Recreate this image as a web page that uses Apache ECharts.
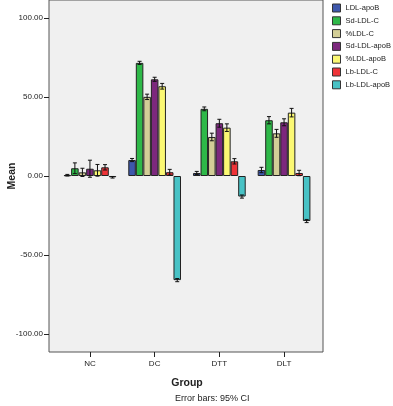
<!DOCTYPE html>
<html><head><meta charset="utf-8">
<script src="https://cdn.jsdelivr.net/npm/echarts@6/dist/echarts.min.js"></script>
<style>html,body{margin:0;padding:0;background:#fff}#c{width:393px;height:406px}</style>
</head><body><div id="c"></div>
<script>
var categories = ['NC', 'DC', 'DTT', 'DLT'];
var seriesNames = ['LDL-apoB', 'Sd-LDL-C', '%LDL-C', 'Sd-LDL-apoB', '%LDL-apoB', 'Lb-LDL-C', 'Lb-LDL-apoB'];
var ldlApoB     = [0.5, 10.1, 1.9, 3.8];
var sdLdlC      = [4.9, 71.6, 42.5, 35.3];
var pctLdlC     = [2.3, 50.1, 24.7, 27.0];
var sdLdlApoB   = [4.6, 61.2, 33.4, 34.0];
var pctLdlApoB  = [3.6, 56.8, 30.6, 40.1];
var lbLdlC      = [5.5, 2.4, 9.3, 1.9];
var lbLdlApoB   = [-0.8, -65.9, -13.0, -28.5];
var errLdlApoB    = [0.5, 1.0, 1.0, 1.7];
var errSdLdlC     = [3.4, 1.0, 1.2, 2.3];
var errPctLdlC    = [2.6, 1.7, 2.4, 2.5];
var errSdLdlApoB  = [5.4, 1.3, 2.5, 2.2];
var errPctLdlApoB = [3.7, 1.8, 2.4, 2.7];
var errLbLdlC     = [1.7, 1.8, 1.7, 1.7];
var errLbLdlApoB  = [0.5, 1.0, 1.0, 1.0];
var yTicks = [-100, -50, 0, 50, 100];

var values = [ldlApoB, sdLdlC, pctLdlC, sdLdlApoB, pctLdlApoB, lbLdlC, lbLdlApoB];
var errors = [errLdlApoB, errSdLdlC, errPctLdlC, errSdLdlApoB, errPctLdlApoB, errLbLdlC, errLbLdlApoB];
var colors = ['#3E58AC', '#2EB848', '#D3CE97', '#7C287D', '#FBF873', '#EF3338', '#48C2C5'];
var GAP = 0.185;
var YMIN = -111.4, YMAX = 111.4;
var FONT = 'Liberation Sans, Arial, sans-serif';

var series = [];
seriesNames.forEach(function (n, k) {
  series.push({
    type: 'bar', name: n, xAxisIndex: 1, yAxisIndex: 1,
    data: values[k], barGap: 0, barCategoryGap: (GAP * 100) + '%',
    itemStyle: { color: colors[k], borderColor: '#222', borderWidth: 1 },
    animation: false, silent: true
  });
});
var errData = [];
values.forEach(function (arr, k) {
  arr.forEach(function (v, i) { errData.push([i, v, errors[k][i], k]); });
});
series.push({
  type: 'custom', xAxisIndex: 1, yAxisIndex: 1, animation: false, silent: true, z: 10,
  data: errData, encode: { x: 0, y: 1 },
  renderItem: function (params, api) {
    var i = api.value(0), v = api.value(1), e = api.value(2), k = api.value(3);
    var band = api.size([1, 0])[0];
    var bw = band * (1 - GAP) / 7;
    var cx = api.coord([i, v])[0] + (k - 3) * bw;
    var yt = api.coord([i, v + e])[1];
    var yb = api.coord([i, v - e])[1];
    var cap = 2;
    var st = { stroke: '#111', lineWidth: 1 };
    return { type: 'group', children: [
      { type: 'line', shape: { x1: cx, y1: yt, x2: cx, y2: yb }, style: st },
      { type: 'line', shape: { x1: cx - cap, y1: yt, x2: cx + cap, y2: yt }, style: st },
      { type: 'line', shape: { x1: cx - cap, y1: yb, x2: cx + cap, y2: yb }, style: st }
    ]};
  }
});

var chart = echarts.init(document.getElementById('c'), null, { renderer: 'canvas' });
chart.setOption({
  backgroundColor: '#fff',
  animation: false,
  textStyle: { fontFamily: FONT },
  legend: {
    data: seriesNames, orient: 'vertical', left: 332, top: 3.5, width: 61, padding: 0,
    itemWidth: 8, itemHeight: 8, itemGap: 3.8, icon: 'rect',
    itemStyle: { borderColor: '#333', borderWidth: 1 },
    textStyle: { fontSize: 7.5, color: '#222', fontFamily: FONT, overflow: 'none' },
    selectedMode: false
  },
  grid: [
    { left: 49, right: 70, top: 0, bottom: 54, show: true, backgroundColor: '#f0f0f0', borderColor: '#555', borderWidth: 1, containLabel: false, outerBoundsMode: 'none' },
    { left: 57.6, right: 76.6, top: 0, bottom: 54, containLabel: false, outerBoundsMode: 'none' }
  ],
  xAxis: [
    { type: 'value', gridIndex: 0, show: false, min: 0, max: 1 },
    { type: 'category', gridIndex: 1, data: categories,
      axisLine: { show: false, onZero: false },
      axisTick: { show: true, alignWithLabel: true, length: 5, lineStyle: { color: '#222' } },
      axisLabel: { fontSize: 8, color: '#222', margin: 8, fontFamily: FONT },
      name: 'Group', nameLocation: 'middle', nameGap: 26, nameMoveOverlap: false,
      nameTextStyle: { fontSize: 10.5, fontWeight: 'bold', color: '#222', fontFamily: FONT } }
  ],
  yAxis: [
    { type: 'value', gridIndex: 0, min: YMIN, max: YMAX,
      axisLine: { show: false }, splitLine: { show: false },
      axisTick: { show: true, length: 5, customValues: yTicks, lineStyle: { color: '#222' } },
      axisLabel: { fontSize: 8, color: '#222', margin: 6, fontFamily: FONT, customValues: yTicks,
        formatter: function (v) { return v.toFixed(2); } },
      name: 'Mean', nameLocation: 'middle', nameGap: 31, nameRotate: 90, nameMoveOverlap: false,
      nameTextStyle: { fontSize: 10.5, fontWeight: 'bold', color: '#222', fontFamily: FONT } },
    { type: 'value', gridIndex: 1, min: YMIN, max: YMAX, show: false }
  ],
  graphic: [
    { type: 'text', left: 175, top: 394, style: { text: 'Error bars: 95% CI', fontSize: 9, fill: '#222', fontFamily: FONT } }
  ],
  series: series
});
</script>
</body></html>
